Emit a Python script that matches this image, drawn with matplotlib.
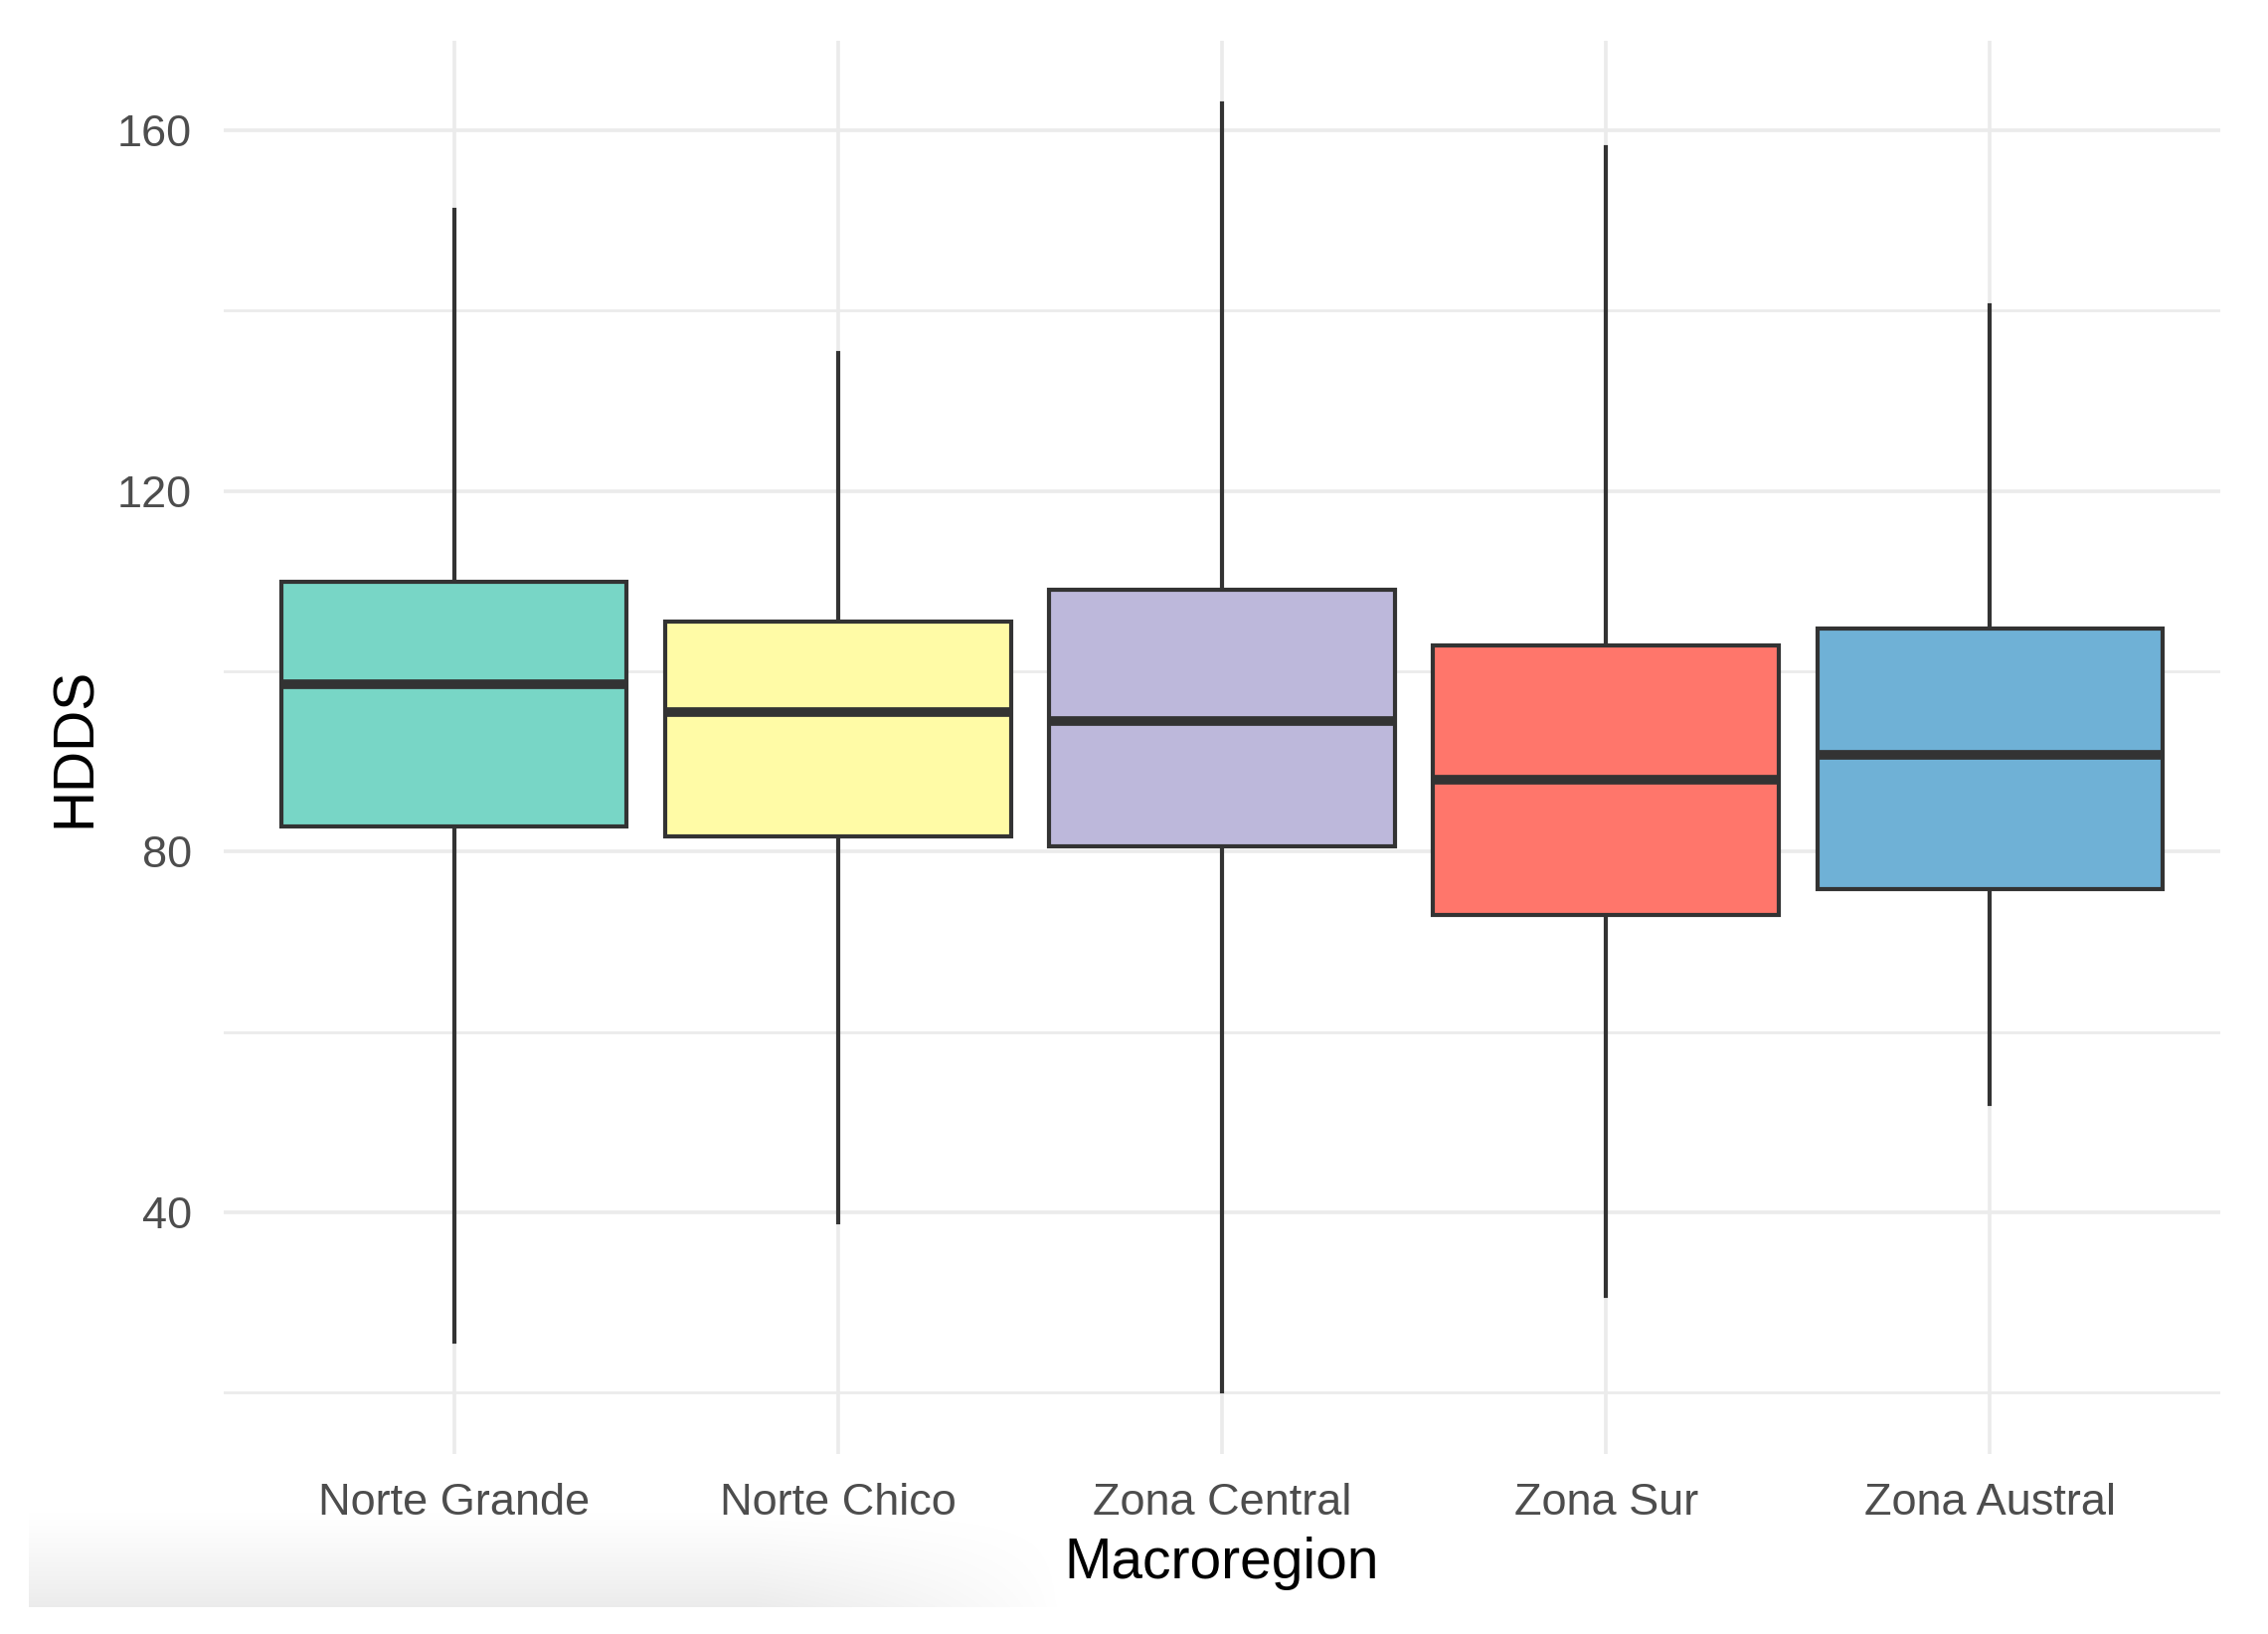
import numpy as np
import matplotlib.pyplot as plt

plt.rcParams['font.family'] = ['Liberation Sans', 'DejaVu Sans']

# box statistics
regions = ["Norte Grande", "Norte Chico", "Zona Central", "Zona Sur", "Zona Austral"]
whislo = [25.7, 38.9, 20.1, 30.7, 52.0]
q1 = [82.8, 81.7, 80.6, 73.0, 75.8]
med = [98.6, 95.5, 94.5, 88.0, 90.7]
q3 = [109.9, 105.5, 109.0, 102.9, 104.7]
whishi = [151.2, 135.3, 163.0, 158.1, 140.6]
colors = ["#78D6C6", "#FFFBA6", "#BDB8DB", "#FF766B", "#6FB1D6"]

W, H = 2281, 1643
fig = plt.figure(figsize=(W / 100, H / 100), dpi=100)

# grey shadow strip at bottom left of the screenshot
gx0, gx1, gy0, gy1 = 29, 1071, 1510, 1616
sh = fig.add_axes([gx0 / W, 1 - gy1 / H, (gx1 - gx0) / W, (gy1 - gy0) / H], zorder=-5)
ny, nx = 100, 400
yy = np.linspace(0, 1, ny)[:, None]
xx = np.linspace(0, 1, nx)[None, :]
alpha = (yy ** 1.3) * np.clip((1 - xx) / 0.3, 0, 1) ** 0.8 * 0.08
rgba = np.zeros((ny, nx, 4))
rgba[..., 3] = alpha
sh.imshow(rgba, aspect="auto", extent=[0, 1, 0, 1], origin="upper")
sh.axis("off")

px0, px1, py0, py1 = 225, 2233, 41, 1462
ax = fig.add_axes([px0 / W, 1 - py1 / H, (px1 - px0) / W, (py1 - py0) / H])

stats = []
for i in range(len(regions)):
    stats.append(dict(label=regions[i], whislo=whislo[i], q1=q1[i], med=med[i],
                      q3=q3[i], whishi=whishi[i], fliers=[]))

pos = np.arange(1, len(regions) + 1)
bp = ax.bxp(stats, positions=pos, widths=0.9, patch_artist=True, showcaps=False,
            boxprops=dict(edgecolor="#333333", linewidth=3.0),
            medianprops=dict(color="#333333", linewidth=7, solid_capstyle="butt"),
            whiskerprops=dict(color="#333333", linewidth=3.0))
for patch, c in zip(bp["boxes"], colors):
    patch.set_facecolor(c)
    patch.set_zorder(3)
for m in bp["medians"]:
    m.set_zorder(4)
for w in bp["whiskers"]:
    w.set_zorder(2)

ax.set_xlim(0.4, 5.6)
ax.set_ylim(13.2, 169.9)
ax.set_yticks([40, 80, 120, 160])
ax.set_yticks([20, 60, 100, 140], minor=True)
ax.set_xticks(pos)
ax.set_xticklabels(regions)

ax.grid(True, which="major", color="#EBEBEB", linewidth=2.6, zorder=0)
ax.grid(True, which="minor", axis="y", color="#EBEBEB", linewidth=2.0, zorder=0)
ax.set_axisbelow(True)
for s in ax.spines.values():
    s.set_visible(False)
ax.tick_params(which="both", length=0, labelsize=32.5, labelcolor="#4D4D4D")
ax.tick_params(axis="y", pad=23)
ax.tick_params(axis="x", pad=21)

ax.set_xlabel("Macroregion", fontsize=41, color="black", labelpad=9)
ax.set_ylabel("HDDS", fontsize=41, color="black", labelpad=11)

fig.savefig("out.png", dpi=100, facecolor="white")
